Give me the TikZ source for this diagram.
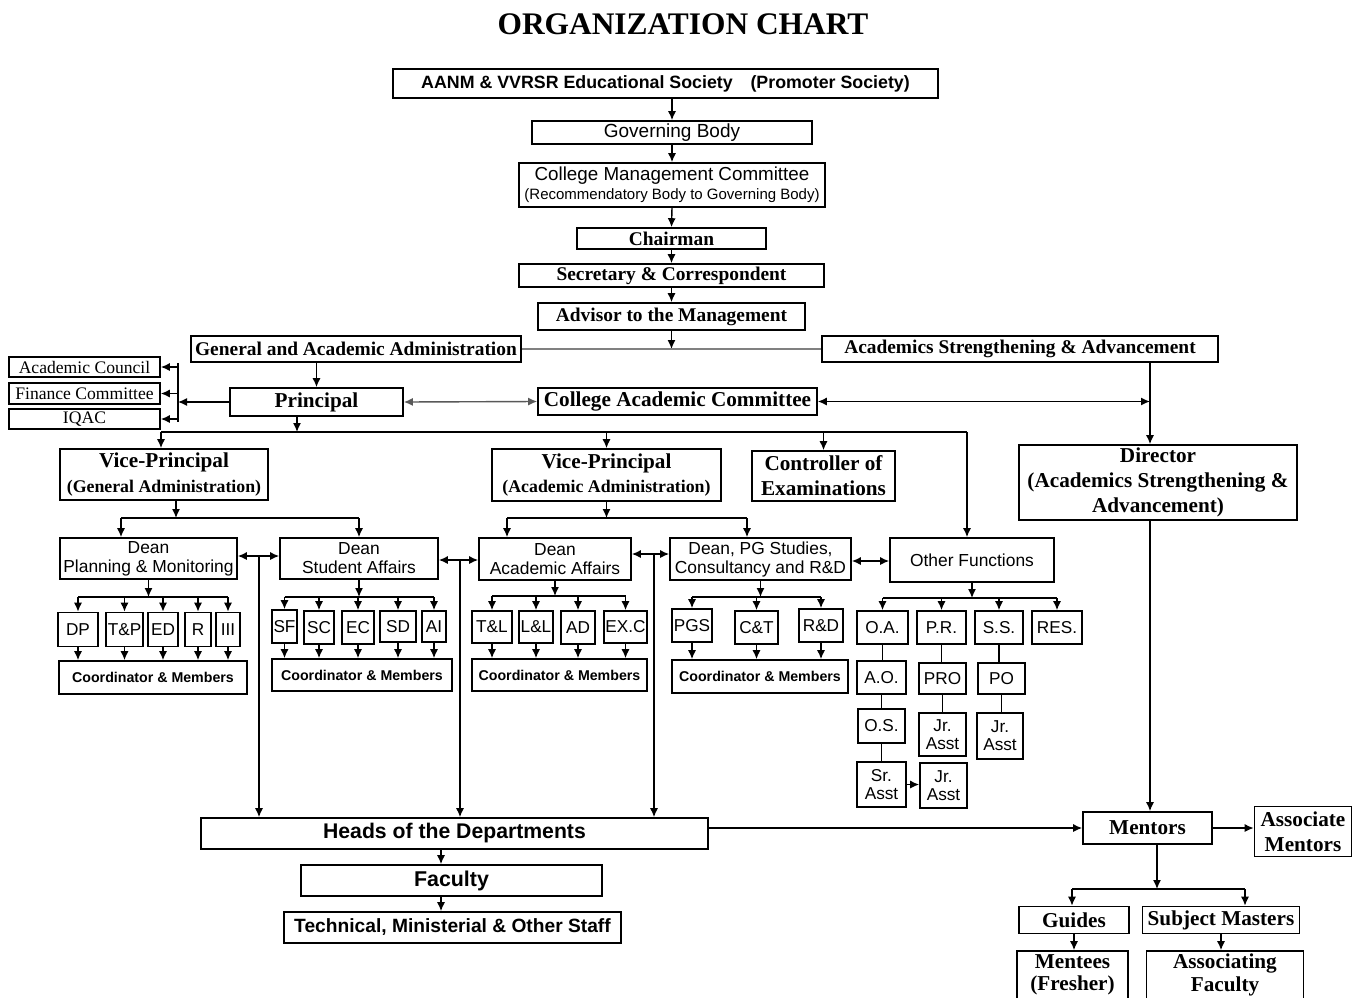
\documentclass[tikz,border=0pt]{standalone}
\usepackage{fontspec}
\setmainfont{Liberation Serif}
\setsansfont{Liberation Sans}
\usetikzlibrary{arrows.meta}
\newcommand{\fsz}[2]{\fontsize{#1}{#2}\selectfont}

\begin{document}
\begin{tikzpicture}[x=0.5pt, y=-0.5pt, line width=0.7pt, >={Latex[length=4.5pt,width=4pt]},
		bx/.style 2 args={draw, line width=0.8pt, minimum width=#1*0.5pt, minimum height=#2*0.5pt, inner sep=0pt, align=center},
		srf/.style={font=\bfseries\fsz{9.7}{11.5}},
		srfbig/.style={font=\bfseries\fsz{10.6}{12.4}},
		cmte/.style={font=\fsz{8.8}{10}},
		dean/.style={font=\sffamily\fsz{8.7}{9.5}},
		unit/.style={font=\sffamily\fsz{8.6}{9}},
		coord/.style={font=\sffamily\bfseries\fsz{7.1}{8}}]
	\path[use as bounding box, fill=white] (0,0) rectangle (1361,997);
	\clip (0,0) rectangle (1361,997);

	\node [font=\bfseries\fsz{15.7}{18}] (title) at (683,24) {ORGANIZATION CHART};

	\node [bx={545}{29}, font=\sffamily\bfseries\fsz{8.9}{10}] (soc) at (665.5,83.5) {AANM \& VVRSR Educational Society\quad (Promoter Society)};
	\node [bx={280}{23}, font=\sffamily\fsz{9.5}{11}] (gov) at (672,132.5) {Governing Body};
	\node [bx={306}{44}, font=\sffamily\fsz{9.4}{9.5}] (cmc) at (672,185) {College Management Committee\\{\fsz{7.5}{8}(Recommendatory Body to Governing Body)}};
	\node [bx={189}{21}, srf] (chair) at (671.5,238.5) {Chairman};
	\node [bx={305}{23}, srf] (sec) at (671.5,275.5) {Secretary \& Correspondent};
	\node [bx={267}{27}, srf] (adv) at (671.5,316.5) {Advisor to the Management};
	\node [bx={330}{26}, srf] (gaa) at (356,349) {General and Academic Administration};
	\node [bx={396}{26}, srf] (asa) at (1020,349) {Academics Strengthening \& Advancement};

	\node [bx={151}{20}, cmte] (acc) at (84.5,367) {Academic Council};
	\node [bx={151}{21}, cmte] (fin) at (84.5,393.5) {Finance Committee};
	\node [bx={151}{20}, cmte] (iqac) at (84.5,419) {IQAC};
	\node [bx={173}{28}, srfbig] (prin) at (316.5,402) {Principal};
	\node [bx={279}{27}, srfbig] (cac) at (677.5,401.5) {College Academic Committee};

	\node [bx={208}{51}, srfbig] (vpga) at (164,474.5) {Vice-Principal\\{\fsz{8.9}{10}(General Administration)}};
	\node [bx={229}{52}, srfbig] (vpaa) at (606.5,475) {Vice-Principal\\{\fsz{8.9}{10}(Academic Administration)}};
	\node [bx={143}{50}, srfbig] (coe) at (823.5,476) {Controller of\\Examinations};
	\node [bx={278}{75}, srfbig] (dir) at (1158,482.5) {Director\\(Academics Strengthening \&\\Advancement)};

	\node [bx={177}{41}, dean] (dpm) at (148.5,558.5) {Dean\\Planning \& Monitoring};
	\node [bx={158}{41}, dean] (dsa) at (359,558.5) {Dean\\Student Affairs};
	\node [bx={152}{42}, dean] (daa) at (555,559) {Dean\\Academic Affairs};
	\node [bx={181}{42}, dean] (dpg) at (760.5,559) {Dean, PG Studies,\\Consultancy and R\&D};
	\node [bx={164}{44}, dean] (oth) at (972,560) {Other Functions};

	\node [bx={40}{34}, unit] (dp) at (78,629.5) {DP};
	\node [bx={37}{34}, unit] (tp) at (124.5,629.5) {T\&P};
	\node [bx={30}{34}, unit] (ed) at (163,629.5) {ED};
	\node [bx={26}{34}, unit] (rr) at (198,629.5) {R};
	\node [bx={24}{34}, unit] (iii) at (228,629.5) {III};
	\node [bx={188}{33}, coord] (cm1) at (153,677.5) {Coordinator \& Members};

	\node [bx={25}{33}, unit] (sfd) at (284.5,626.5) {SF};
	\node [bx={30}{33}, unit] (sc) at (319,627.5) {SC};
	\node [bx={32}{33}, unit] (ec) at (358,627.5) {EC};
	\node [bx={36}{31}, unit] (sd) at (398,626.5) {SD};
	\node [bx={24}{31}, unit] (ai) at (434,626.5) {AI};
	\node [bx={180}{32}, coord] (cm2) at (362,675) {Coordinator \& Members};

	\node [bx={40}{32}, unit] (tl) at (492,627) {T\&L};
	\node [bx={34}{32}, unit] (ll) at (536,627) {L\&L};
	\node [bx={34}{33}, unit] (ad) at (578,627.5) {AD};
	\node [bx={43}{32}, unit] (exc) at (625.5,627) {EX.C};
	\node [bx={175}{32}, coord] (cm3) at (559.5,675) {Coordinator \& Members};

	\node [bx={40}{33}, unit] (pgs) at (692,625.5) {PGS};
	\node [bx={43}{33}, unit] (ct) at (756.5,627.5) {C\&T};
	\node [bx={44}{33}, unit] (rd) at (821,625.5) {R\&D};
	\node [bx={176}{33}, coord] (cm4) at (760,676.5) {Coordinator \& Members};

	\node [bx={51}{33}, unit] (oa) at (882.5,627.5) {O.A.};
	\node [bx={49}{33}, unit] (pr) at (941.5,627.5) {P.R.};
	\node [bx={48}{33}, unit] (ss) at (999,627.5) {S.S.};
	\node [bx={50}{33}, unit] (res) at (1057,627.5) {RES.};
	\node [bx={49}{33}, unit] (ao) at (881.5,677.5) {A.O.};
	\node [bx={47}{31}, unit] (pro) at (942.5,678.5) {PRO};
	\node [bx={47}{31}, unit] (po) at (1001.5,678.5) {PO};
	\node [bx={47}{34}, unit] (os) at (881.5,726) {O.S.};
	\node [bx={47}{43}, unit] (ja1) at (942.5,734.5) {Jr.\\Asst};
	\node [bx={46}{46}, unit] (ja2) at (1000,736) {Jr.\\Asst};
	\node [bx={49}{45}, unit] (sra) at (881.5,784.5) {Sr.\\Asst};
	\node [bx={47}{45}, unit] (ja3) at (943.5,785.5) {Jr.\\Asst};

	\node [bx={507}{31}, font=\sffamily\bfseries\fsz{10.6}{12}] (hod) at (454.5,833.5) {Heads of the Departments};
	\node [bx={301}{31}, font=\sffamily\bfseries\fsz{10.7}{12}] (fac) at (451.5,880.5) {Faculty};
	\node [bx={337}{31}, font=\sffamily\bfseries\fsz{9.6}{11}] (tech) at (452.5,927.5) {Technical, Ministerial \& Other Staff};

	\node [bx={129}{32}, srfbig] (ment) at (1147.5,828) {Mentors};
	\node [bx={97}{50}, srfbig] (amen) at (1303,831.5) {Associate\\Mentors};
	\node [bx={110}{27}, srfbig] (guid) at (1074,920) {Guides};
	\node [bx={157}{27}, srfbig] (subj) at (1221,920) {Subject Masters};
	\node [bx={111}{48}, font=\bfseries\fsz{10.6}{11.2}] (mentee) at (1072.5,975) {Mentees\\(Fresher)};
	\node [bx={157}{48}, font=\bfseries\fsz{10.6}{11.2}] (assoc) at (1225,975) {Associating\\Faculty};

	\draw [->] (soc.south -| gov.north) -- (gov.north);
	\draw [->] (gov.south) -- (cmc.north);
	\draw [->] (cmc.south) -- (chair.north);
	\draw [->] (chair.south) -- (sec.north);
	\draw [->] (sec.south) -- (adv.north);
	\draw [->] (adv.south) -- (adv.south |- gaa.east);
	\draw [gray] (gaa.east) -- (asa.west);
	\draw [->] (gaa.south -| prin.north) -- (prin.north);

	\coordinate (cb) at (178,402);
	\draw [->] (prin.west) -- (cb);
	\draw ([yshift=2pt]acc.east -| cb) -- ([yshift=-1.5pt]iqac.east -| cb);
	\foreach \x in {acc,fin,iqac}
		\draw [->] (\x.east -| cb) -- (\x.east);

	\draw [<->, gray!70!black] (prin.east) -- (cac.west);
	\coordinate (vx) at (1150,401.5);
	\draw [<->] (cac.east) -- (vx);
	\draw [->] (asa.south -| vx) -- (dir.north -| vx);
	\draw [->] (dir.south -| vx) -- (ment.north -| vx);

	\coordinate (pb) at (297,432);
	\coordinate (lb) at (161,432);
	\coordinate (rb) at (967,432);
	\draw [->] (prin.south -| pb) -- (pb);
	\draw (lb) -- (rb);
	\draw [->] (lb) -- (vpga.north -| lb);
	\draw [->] (vpaa.north |- lb) -- (vpaa.north);
	\draw [->] (coe.north |- lb) -- (coe.north);
	\draw [->] (rb) -- (oth.north -| rb);

	\coordinate (ga) at (176,518);
	\coordinate (ga1) at (121,518);
	\draw [->] (vpga.south -| ga) -- (ga);
	\draw (ga1) -- (dsa.north |- ga);
	\draw [->] (ga1) -- (dpm.north -| ga1);
	\draw [->] (dsa.north |- ga) -- (dsa.north);

	\coordinate (aa1) at (507,518);
	\coordinate (aa2) at (747,518);
	\draw [->] (vpaa.south) -- (vpaa.south |- aa1);
	\draw (aa1) -- (aa2);
	\draw [->] (aa1) -- (daa.north -| aa1);
	\draw [->] (aa2) -- (dpg.north -| aa2);

	\coordinate (j1) at (259,556);
	\coordinate (j2) at (460,560);
	\coordinate (j3) at (654,554);
	\coordinate (j4) at (870,561);
	\draw [<->] (dpm.east |- j1) -- (dsa.west |- j1);
	\draw [<->] (dsa.east |- j2) -- (daa.west |- j2);
	\draw [<->] (daa.east |- j3) -- (dpg.west |- j3);
	\draw [<->] (dpg.east |- j4) -- (oth.west |- j4);
	\foreach \x in {j1,j2,j3}
		\draw [->] (\x) -- (\x |- hod.north);

	\coordinate (b1) at (0,597);
	\draw [->] (dpm.south) -- (dpm.south |- b1);
	\draw (dp.north |- b1) -- (iii.north |- b1);
	\foreach \x in {dp,tp,ed,rr,iii} {
		\draw [->] (\x.north |- b1) -- (\x.north);
		\draw [->] (\x.south) -- (\x.south |- cm1.north);
	}

	\coordinate (b2) at (0,597);
	\draw [->] (dsa.south) -- (dsa.south |- b2);
	\draw (sfd.north |- b2) -- (ai.north |- b2);
	\foreach \x in {sfd,sc,ec,sd,ai} {
		\draw [->] (\x.north |- b2) -- (\x.north);
		\draw [->] (\x.south) -- (\x.south |- cm2.north);
	}

	\coordinate (b3) at (0,596);
	\draw [->] (daa.south) -- (daa.south |- b3);
	\draw (tl.north |- b3) -- (exc.north |- b3);
	\foreach \x in {tl,ll,ad,exc} {
		\draw [->] (\x.north |- b3) -- (\x.north);
		\draw [->] (\x.south) -- (\x.south |- cm3.north);
	}

	\coordinate (b4) at (0,597);
	\draw [->] (dpg.south) -- (dpg.south |- b4);
	\draw (pgs.north |- b4) -- (rd.north |- b4);
	\foreach \x in {pgs,ct,rd} {
		\draw [->] (\x.north |- b4) -- (\x.north);
		\draw [->] (\x.south) -- (\x.south |- cm4.north);
	}

	\coordinate (b5) at (0,598);
	\draw [->] (oth.south) -- (oth.south |- b5);
	\draw (oa.north |- b5) -- (res.north |- b5);
	\foreach \x in {oa,pr,ss,res}
		\draw [->] (\x.north |- b5) -- (\x.north);
	\draw (oa.south) -- (oa.south |- ao.north);
	\draw (ao.south) -- (ao.south |- os.north);
	\draw (os.south) -- (os.south |- sra.north);
	\draw (pr.south) -- (pr.south |- pro.north);
	\draw (pro.south) -- (pro.south |- ja1.north);
	\draw (ss.south) -- (ss.south |- po.north);
	\draw (po.south) -- (po.south |- ja2.north);
	\draw [->] (sra.east) -- (sra.east -| ja3.west);

	\coordinate (hf) at (441,0);
	\draw [->] (hod.south -| hf) -- (fac.north -| hf);
	\draw [->] (fac.south -| hf) -- (tech.north -| hf);
	\draw [->] (hod.east |- ment.west) -- (ment.west);
	\draw [->] (ment.east) -- (amen.west |- ment.east);

	\coordinate (mb) at (1157,889);
	\coordinate (g1) at (1072,889);
	\coordinate (g2) at (1245,889);
	\draw [->] (ment.south -| mb) -- (mb);
	\draw (g1) -- (g2);
	\draw [->] (g1) -- (guid.north -| g1);
	\draw [->] (g2) -- (subj.north -| g2);
	\draw [->] (guid.south) -- (guid.south |- mentee.north);
	\draw [->] (subj.south) -- (subj.south |- assoc.north);
\end{tikzpicture}
\end{document}
